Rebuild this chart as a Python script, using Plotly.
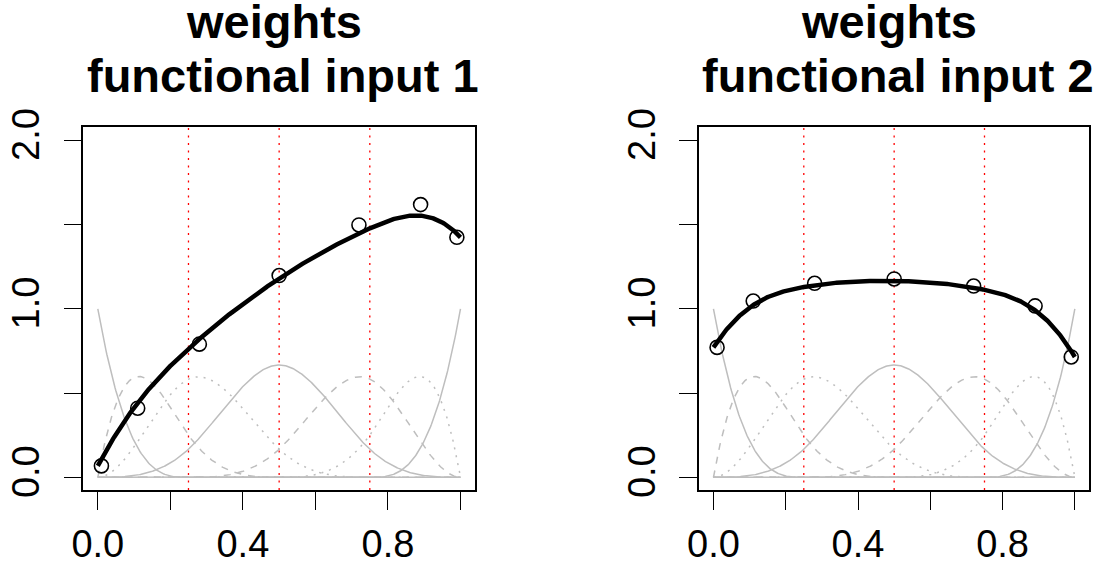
import numpy as np
import plotly.graph_objects as go

# ---------------- data ----------------
interior_knots = [0.25, 0.5, 0.75]          # red dotted lines / spline knots
spline_degree = 3
x_ticks = [0.0, 0.2, 0.4, 0.6, 0.8, 1.0]
x_ticklabels = ["0.0", "", "0.4", "", "0.8", ""]
y_ticks = [0.0, 0.5, 1.0, 1.5, 2.0]
y_ticklabels = ["0.0", "", "1.0", "", "2.0"]

weight_x = [0.01, 0.11, 0.28, 0.50, 0.72, 0.89, 0.99]           # circle positions
weights_1 = [0.068, 0.41, 0.79, 1.197, 1.497, 1.618, 1.424]       # functional input 1
weights_2 = [0.771, 1.046, 1.151, 1.177, 1.135, 1.017, 0.714]     # functional input 2
titles = [("weights", "functional input 1"), ("weights", "functional input 2")]

# ---------------- B-spline basis (Cox-de Boor) ----------------
def bspline_basis(x, inner, k):
    t = np.r_[[0.0] * (k + 1), inner, [1.0] * (k + 1)]
    n = len(t) - k - 1
    x = np.asarray(x, float)
    B = np.zeros((len(t) - 1, len(x)))
    for i in range(len(t) - 1):
        if t[i] < t[i + 1]:
            B[i] = (x >= t[i]) & (x < t[i + 1])
    last = max(i for i in range(len(t) - 1) if t[i] < t[i + 1])
    B[last, x == t[-1]] = 1.0
    for d in range(1, k + 1):
        Bn = np.zeros((len(t) - d - 1, len(x)))
        for i in range(len(t) - d - 1):
            a = 0.0
            if t[i + d] > t[i]:
                a = (x - t[i]) / (t[i + d] - t[i]) * B[i]
            b = 0.0
            if t[i + d + 1] > t[i + 1]:
                b = (t[i + d + 1] - x) / (t[i + d + 1] - t[i + 1]) * B[i + 1]
            Bn[i] = a + b
        B = Bn
    return B[:n]

xs = np.linspace(0, 1, 401)
basis = bspline_basis(xs, interior_knots, spline_degree)

GRAY = "#BEBEBE"
dash_cycle = ["solid", "7px,7px", "2px,6px"]
FONT = "Liberation Sans, Arial, Helvetica, sans-serif"

fig = go.Figure()

panels = [
    dict(xa="x", ya="y", w=weights_1),
    dict(xa="x2", ya="y2", w=weights_2),
]
for p in panels:
    for j in range(basis.shape[0]):
        fig.add_trace(go.Scatter(x=xs, y=basis[j], mode="lines",
                                 line=dict(color=GRAY, width=1.5, dash=dash_cycle[j % 3]),
                                 xaxis=p["xa"], yaxis=p["ya"], showlegend=False,
                                 hoverinfo="skip"))
    curve = np.asarray(p["w"]) @ basis
    fig.add_trace(go.Scatter(x=xs, y=curve, mode="lines",
                             line=dict(color="black", width=4.5),
                             xaxis=p["xa"], yaxis=p["ya"], showlegend=False))
    fig.add_trace(go.Scatter(x=weight_x, y=p["w"], mode="markers",
                             marker=dict(symbol="circle-open", size=14, color="black",
                                         line=dict(width=1.6, color="black")),
                             xaxis=p["xa"], yaxis=p["ya"], showlegend=False))
    for k in interior_knots:
        fig.add_shape(type="line", x0=k, x1=k, y0=0, y1=1,
                      xref=p["xa"], yref=p["ya"] + " domain",
                      line=dict(color="red", width=1.3, dash="2px,5.5px"),
                      layer="below")

W, H = 1105, 565
left_dom = [83.3 / W, 475 / W]
right_dom = [699 / W, 1089.3 / W]
y_dom = [1 - 490 / H, 1 - 126.7 / H]

def xaxis(dom, anchor):
    return dict(domain=dom, anchor=anchor, range=[-0.04, 1.04], tickvals=x_ticks,
                ticktext=x_ticklabels, ticks="outside", ticklen=18, tickwidth=1.3,
                tickcolor="black", showline=True, linecolor="black", linewidth=1.6,
                mirror=True, showgrid=False, zeroline=False, automargin=False,
                tickfont=dict(family=FONT, size=38, color="black"),
                ticklabelstandoff=2)

def yaxis(anchor):
    return dict(domain=y_dom, anchor=anchor, range=[-0.075, 2.08], tickvals=y_ticks,
                ticktext=y_ticklabels, ticks="outside", ticklen=18, tickwidth=1.3,
                tickcolor="black", showline=True, linecolor="black", linewidth=1.6,
                mirror=True, showgrid=False, zeroline=False, tickangle=-90,
                automargin=False,
                tickfont=dict(family=FONT, size=38, color="black"),
                ticklabelstandoff=9)

fig.update_layout(
    width=W, height=H, margin=dict(l=0, r=0, t=0, b=0, autoexpand=False),
    paper_bgcolor="white", plot_bgcolor="white",
    xaxis=xaxis(left_dom, "y"), yaxis=yaxis("x"),
    xaxis2=xaxis(right_dom, "y2"), yaxis2=yaxis("x2"),
)

centers = [(left_dom[0] + left_dom[1]) / 2 * W, (right_dom[0] + right_dom[1]) / 2 * W]
for c, (l1, l2) in zip(centers, titles):
    fig.add_annotation(x=(c - 5) / W, y=1 - 21 / H, xref="paper", yref="paper",
                       text="<b>" + l1 + "</b>", showarrow=False, xanchor="center",
                       yanchor="middle", font=dict(family=FONT, size=47, color="black"))
    fig.add_annotation(x=(c + 4) / W, y=1 - 76 / H, xref="paper", yref="paper",
                       text="<b>" + l2 + "</b>", showarrow=False, xanchor="center",
                       yanchor="middle", font=dict(family=FONT, size=47, color="black"))

fig.write_html("out.html")
